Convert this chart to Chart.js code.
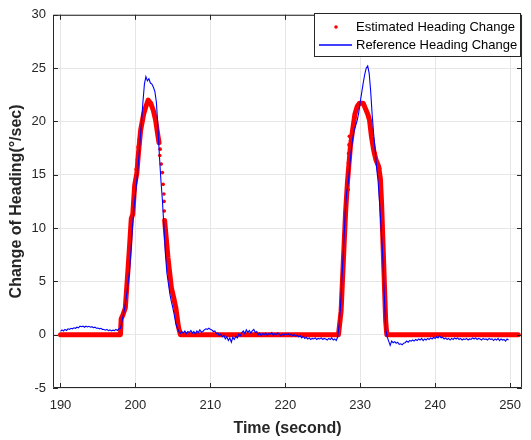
<!DOCTYPE html>
<html>
<head>
<meta charset="utf-8">
<script src="https://cdn.jsdelivr.net/npm/chart.js@4.4.1/dist/chart.umd.min.js"></script>
<style>
  html, body { margin: 0; padding: 0; background: #ffffff; }
  #wrap { width: 531px; height: 440px; }
</style>
</head>
<body>
<div id="wrap"><canvas id="chart" width="531" height="440"></canvas></div>
<script>
// Tick values shown on the axes.
const xTickValues = [190, 200, 210, 220, 230, 240, 250];
const yTickValues = [-5, 0, 5, 10, 15, 20, 25, 30];

// Reference heading change, sampled every 0.2 s starting at 190 s.
const refStart = 190;
const refStep = 0.2;
const refValues = [
  0.3, 0.45, 0.35, 0.5, 0.4, 0.55, 0.5, 0.6, 0.55, 0.65,
  0.6, 0.7, 0.65, 0.8, 0.75, 0.8, 0.7, 0.8, 0.72, 0.78,
  0.7, 0.75, 0.65, 0.7, 0.6, 0.62, 0.55, 0.6, 0.5, 0.48,
  0.42, 0.5, 0.38, 0.45, 0.35, 0.42, 0.38, 0.5, 0.4, 0.55,
  0.6,
  // first turn (198.2 - 205.8)
  1.2, 1.9, 2.6, 3.6, 4.7, 5.9, 7.8, 10.0, 11.8, 13.2,
  14.5, 16.1, 18.0, 19.8, 21.8, 23.5, 24.2, 23.8, 24.0, 23.6,
  23.5, 23.2, 22.8, 21.8, 19.5, 16.8, 14.5, 12.6, 10.2, 7.6,
  5.8, 4.8, 3.8, 3.1, 2.5, 1.8, 1.0, 0.6, 0.3,
  // straight (206.0 - 227.0)
  0.1, 0.3, 0.15, 0.35, 0.1, 0.3, 0.2, 0.4, 0.15, 0.3,
  0.05, 0.35, 0.2, 0.45, 0.25, 0.3, 0.45, 0.55, 0.5, 0.6,
  0.5, 0.45, 0.3, 0.35, 0.1, 0.15, -0.1, 0.05, -0.2, -0.05,
  -0.4, -0.2, -0.55, -0.3, -0.7, -0.25, -0.45, -0.15, -0.3, 0.05,
  -0.1, 0.2, 0.35, 0.1, 0.45, 0.2, 0.4, 0.15, 0.35, 0.5,
  0.2, 0.3, 0.0, 0.15, -0.1, 0.1, 0.0, 0.15, -0.05, 0.1,
  0.05, 0.2, -0.05, 0.1, 0.0, 0.15, 0.05, -0.1, 0.05, -0.05,
  0.1, 0.0, 0.1, -0.05, 0.05, -0.1, 0.0, -0.15, -0.05, -0.2,
  -0.1, -0.3, -0.15, -0.35, -0.25, -0.4, -0.3, -0.45, -0.35, -0.4,
  -0.3, -0.45, -0.35, -0.4, -0.3, -0.45, -0.35, -0.4, -0.5, -0.35,
  -0.45, -0.3, -0.5, -0.4, -0.55, -0.2,
  // second turn (227.2 - 233.6)
  1.0, 3.0, 5.8, 8.4, 11.5, 13.4, 14.2, 15.8, 17.3, 18.4,
  19.2, 19.6, 20.1, 20.8, 21.8, 22.7, 23.6, 24.4, 25.0, 25.2,
  24.5, 22.8, 20.6, 18.8, 17.3, 15.6, 14.3, 12.2, 9.9, 7.5,
  4.0, 0.5, -0.2,
  // straight (233.8 - 249.8)
  -0.6, -1.0, -0.6, -0.75, -0.65, -0.8, -0.7, -0.9, -0.85, -0.95, -0.8,
  -0.75, -0.6, -0.7, -0.55, -0.6, -0.5, -0.6, -0.45, -0.55, -0.4,
  -0.5, -0.35, -0.55, -0.4, -0.5, -0.35, -0.45, -0.3, -0.4, -0.25,
  -0.35, -0.2, -0.3, -0.1, -0.3, -0.25, -0.4, -0.3, -0.45, -0.35,
  -0.5, -0.35, -0.45, -0.3, -0.4, -0.3, -0.45, -0.35, -0.5, -0.4,
  -0.45, -0.35, -0.5, -0.4, -0.45, -0.3, -0.4, -0.3, -0.45, -0.35,
  -0.4, -0.5, -0.35, -0.45, -0.4, -0.5, -0.35, -0.45, -0.4, -0.55,
  -0.4, -0.5, -0.35, -0.55, -0.4, -0.5, -0.45, -0.6, -0.4, -0.5
];

// Estimated heading change: the dense trace (null = break in the trace).
const estTime = [
  190, 198.0, 198.1, 198.3, 198.65, 198.9, 199.2, 199.45, 199.65, 199.9,
  200.2, 200.4, 200.7, 201.1, 201.4, 201.7, 202.05, 202.4, 202.7, 202.95,
  203.15, 203.5, 203.9, 204.35, 204.8, 205.1, 205.4, 205.75, 206.0,
  227.1, 227.45, 227.75, 228.05, 228.3, 228.7, 229.05, 229.3, 229.6, 229.9,
  230.4, 230.7, 231.0, 231.25, 231.5, 231.8, 232.1, 232.45, 232.7, 232.85,
  233.4, 233.55, 251.1
];
const estValues = [
  0, 0, 1.5, 1.8, 2.5, 5.0, 8.1, 10.9, 11.3, 14.0,
  15.2, 17.0, 19.2, 20.7, 21.4, 22.0, 21.7, 21.0, 20.1, 18.9,
  18.0, null, 10.7, 7.2, 4.4, 3.5, 2.5, 0.7, 0,
  0, 2.2, 6.9, 11.5, 14.3, 17.7, 19.5, 20.7, 21.4, 21.7,
  21.7, 21.2, 20.7, 20.1, 18.6, 17.3, 16.4, 15.8, 14.6, 12.4,
  1.3, 0, 0
];

// Estimated heading change: loose samples off the dense trace.
const estDotTime = [
  200.1, 200.25, 200.35, 200.5, 203.0, 203.25, 203.3, 203.45, 203.6, 203.7,
  203.8, 203.82, 203.85, 228.4, 228.4, 228.42, 228.45, 228.5, 228.55, 232.0,
  232.6, 232.8, 232.8, 232.82
];
const estDotValues = [
  15.5, 16.4, 17.6, 18.3, 18.7, 16.8, 17.4, 16.0, 15.2, 14.1,
  13.2, 12.5, 11.6, 13.6, 15.2, 16.1, 17.0, 17.8, 18.6, 17.0,
  15.6, 14.4, 13.6, 13.0
];

const refData = refValues.map((v, i) => ({ x: refStart + i * refStep, y: v }));
const estData = estTime.map((t, i) => ({ x: t, y: estValues[i] }));
const estDotData = estDotTime.map((t, i) => ({ x: t, y: estDotValues[i] }));

const axisColor = '#262626';
const baseFont = '"Liberation Sans", Arial, sans-serif';

// Draws the MATLAB-like box, inward tick marks and the legend.
const axesBoxPlugin = {
  id: 'axesBox',
  afterDraw: (chart) => {
    const { ctx, chartArea: { left, top, right, bottom }, scales: { x, y } } = chart;
    ctx.save();
    ctx.strokeStyle = axisColor;
    ctx.lineWidth = 1;
    ctx.beginPath();
    ctx.rect(left + 0.5, top + 0.5, right - left - 1, bottom - top - 1);
    xTickValues.forEach((v) => {
      const px = Math.round(x.getPixelForValue(v)) + 0.5;
      ctx.moveTo(px, bottom); ctx.lineTo(px, bottom - 5);
      ctx.moveTo(px, top); ctx.lineTo(px, top + 5);
    });
    yTickValues.forEach((v) => {
      const py = Math.round(y.getPixelForValue(v)) + 0.5;
      ctx.moveTo(left, py); ctx.lineTo(left + 5, py);
      ctx.moveTo(right, py); ctx.lineTo(right - 5, py);
    });
    ctx.stroke();

    // legend
    const lx = 314, ly = 13, lw = 207, lh = 44;
    ctx.fillStyle = '#ffffff';
    ctx.fillRect(lx, ly, lw, lh);
    ctx.strokeStyle = axisColor;
    ctx.strokeRect(lx + 0.5, ly + 0.5, lw - 1, lh - 1);
    ctx.fillStyle = '#ff0000';
    ctx.beginPath();
    ctx.arc(336, 27, 1.8, 0, Math.PI * 2);
    ctx.fill();
    ctx.strokeStyle = '#0000ff';
    ctx.lineWidth = 1.3;
    ctx.beginPath();
    ctx.moveTo(319, 45); ctx.lineTo(352, 45);
    ctx.stroke();
    ctx.fillStyle = '#000000';
    ctx.font = `13px ${baseFont}`;
    ctx.textBaseline = 'middle';
    ctx.textAlign = 'left';
    ctx.fillText('Estimated Heading Change', 356, 27);
    ctx.fillText('Reference Heading Change', 356, 45);
    ctx.restore();
  }
};

new Chart(document.getElementById('chart').getContext('2d'), {
  type: 'scatter',
  data: {
    datasets: [
      {
        label: 'Reference Heading Change',
        data: refData,
        showLine: true,
        borderColor: '#0000ff',
        borderWidth: 1.1,
        pointRadius: 0,
        tension: 0
      },
      {
        label: 'Estimated Heading Change',
        data: estData,
        showLine: true,
        spanGaps: false,
        borderColor: '#ff0000',
        borderWidth: 5,
        borderCapStyle: 'round',
        borderJoinStyle: 'round',
        pointRadius: 0,
        tension: 0
      },
      {
        label: 'Estimated (loose samples)',
        data: estDotData,
        showLine: false,
        pointRadius: 1.8,
        pointBorderWidth: 0,
        backgroundColor: '#ff0000'
      }
    ]
  },
  options: {
    responsive: false,
    animation: false,
    devicePixelRatio: 1,
    layout: { padding: { top: 10, right: 1, left: 0, bottom: 0 } },
    plugins: { legend: { display: false }, tooltip: { enabled: false } },
    scales: {
      x: {
        type: 'linear',
        min: 189,
        max: 251.6,
        afterBuildTicks: (scale) => { scale.ticks = xTickValues.map((v) => ({ value: v })); },
        afterFit: (scale) => { scale.height = 52; },
        grid: { color: '#e6e6e6', drawTicks: false },
        border: { display: false },
        ticks: { color: axisColor, font: { size: 13, family: baseFont }, padding: 10, maxRotation: 0 },
        title: {
          display: true,
          text: 'Time (second)',
          color: axisColor,
          font: { size: 16, weight: 'bold', family: baseFont },
          padding: { top: 0, bottom: 2 }
        }
      },
      y: {
        type: 'linear',
        min: -5,
        max: 30,
        afterBuildTicks: (scale) => { scale.ticks = yTickValues.map((v) => ({ value: v })); },
        afterFit: (scale) => { scale.width = 53; },
        grid: { color: '#e6e6e6', drawTicks: false },
        border: { display: false },
        ticks: { color: axisColor, font: { size: 13, family: baseFont }, padding: 7 },
        title: {
          display: true,
          text: 'Change of Heading(°/sec)',
          color: axisColor,
          font: { size: 16, weight: 'bold', family: baseFont },
          padding: { top: 7, bottom: 0 }
        }
      }
    }
  },
  plugins: [axesBoxPlugin]
});
</script>
</body>
</html>
